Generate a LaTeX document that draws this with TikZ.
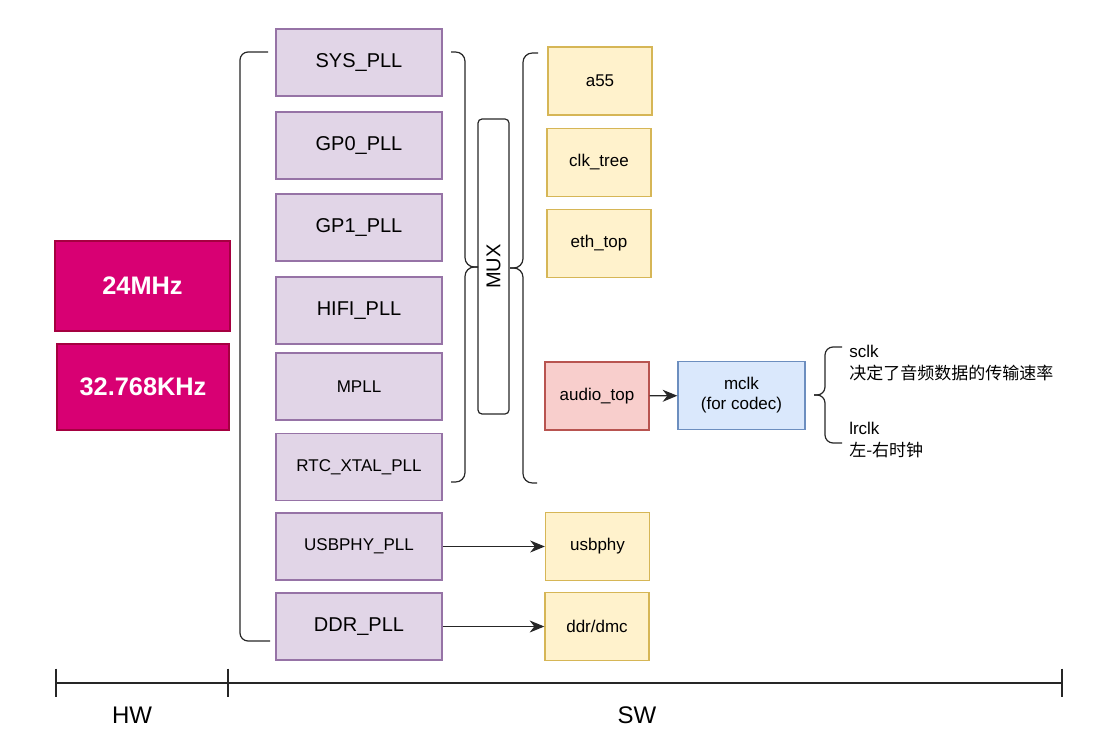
\documentclass[tikz,border=0pt]{standalone}
\usepackage{fontspec}
\setmainfont{Liberation Sans}
\newfontfamily\cjk{Noto Sans CJK SC}
\usetikzlibrary{arrows.meta}
\definecolor{pllfill}{HTML}{E1D5E7}
\definecolor{pllline}{HTML}{9673A6}
\definecolor{modfill}{HTML}{FFF2CC}
\definecolor{modline}{HTML}{D6B656}
\definecolor{oscfill}{HTML}{D80073}
\definecolor{oscline}{HTML}{A50040}
\definecolor{audfill}{HTML}{F8CECC}
\definecolor{audline}{HTML}{B85450}
\definecolor{mclkfill}{HTML}{DAE8FC}
\definecolor{mclkline}{HTML}{6C8EBF}
\begin{document}
\begin{tikzpicture}[x=0.75pt, y=-0.75pt,
  box/.style={draw, line width=1pt, inner sep=0pt, align=center},
  pll/.style={box, fill=pllfill, draw=pllline, minimum width=124.5pt, minimum height=50.25pt, font=\fontsize{15}{18}\selectfont},
  pll_small/.style={pll, font=\fontsize{12.75}{15}\selectfont},
  module/.style={box, fill=modfill, draw=modline, minimum width=78pt, minimum height=51pt, font=\fontsize{12.75}{15}\selectfont},
  osc/.style={box, fill=oscfill, draw=oscline, text=white, font=\fontsize{19}{22}\selectfont\bfseries},
  brace/.style={draw=black!85, line width=0.9pt, rounded corners=7pt},
  conn/.style={-{Stealth[length=11pt, width=9pt, inset=3.5pt]}, draw=black!85, line width=0.9pt},
  note/.style={align=left, anchor=west, inner sep=0pt, font=\fontsize{12.75}{16.5}\selectfont},
  axis/.style={draw=black!85, line width=1pt}
]
\useasboundingbox (0,0) rectangle (1117,745);

% Oscillators (HW)
\node[osc, minimum width=131.25pt, minimum height=67.5pt] (osc24) at (142.5,286) {24MHz};
\node[osc, minimum width=129pt, minimum height=64.5pt] (osc32) at (143,387) {32.768KHz};

% PLLs
\foreach \n/\t/\y in {sys/SYS\_PLL/62.5, gp0/GP0\_PLL/145.5, gp1/GP1\_PLL/227.5, hifi/HIFI\_PLL/310.5, ddr/DDR\_PLL/626.5} {
  \node[pll] (\n) at (359,\y) {\t};
}
\foreach \n/\t/\y in {mpll/MPLL/386.5, rtc/RTC\_XTAL\_PLL/467, usb/USBPHY\_PLL/546.5} {
  \node[pll_small] (\n) at (359,\y) {\t};
}

% MUX
\node[draw=black!85, line width=0.9pt, rounded corners=3pt, minimum width=23.25pt, minimum height=221.25pt, inner sep=0pt] (mux) at (493.5,266.5) {};
\node[rotate=90, font=\fontsize{15}{18}\selectfont] (muxlabel) at (mux.center) {MUX};

% Modules
\node[module] (a55) at (600,81) {a55};
\node[module] (clktree) at (599,162.5) {clk\_tree};
\node[module] (eth) at (599,243.5) {eth\_top};
\node[module, fill=audfill, draw=audline] (audio) at (597,396) {audio\_top};
\node[module, fill=mclkfill, draw=mclkline, minimum width=95.25pt] (mclk) at (741.5,395.5) {mclk\\(for codec)};
\node[module] (usbphy) at (597.5,546.5) {usbphy};
\node[module] (dmc) at (597,626.5) {ddr/dmc};

% Braces
\draw[brace, rounded corners=6pt] (268,52) -- (240,52) -- (240,641) -- (270,641);
\draw[brace] (451,52) -- (465,52) -- (465,267) -- (478,267);
\draw[brace] (478,267) -- (465,267) -- (465,482) -- (451,482);
\draw[brace] (538,53) -- (523,53) -- (523,268) -- (510,268);
\draw[brace] (510,268) -- (523,268) -- (523,483) -- (537,483);
\draw[brace, rounded corners=6pt] (842,347) -- (825,347) -- (825,395) -- (814,395);
\draw[brace, rounded corners=6pt] (814,395) -- (825,395) -- (825,443) -- (842,443);

% Notes
\node[note] (sclk) at (849,363) {sclk\\{\cjk 决定了音频数据的传输速率}};
\node[note] (lrclk) at (849,440) {lrclk\\{\cjk 左-右时钟}};

% Connections
\draw[conn] (audio) -- (mclk);
\draw[conn] (usb) -- (usbphy);
\draw[conn] (ddr) -- (dmc);

% Axis
\coordinate (hw_start) at (56,683);
\coordinate (hw_end) at (228,683);
\coordinate (sw_end) at (1062,683);
\draw[axis] (hw_start) -- (sw_end);
\foreach \c in {hw_start,hw_end,sw_end} {
  \draw[axis] ([yshift=10.8pt]\c) -- ([yshift=-10.8pt]\c);
}
\node[font=\fontsize{18}{21}\selectfont] (hw) at (132,715) {HW};
\node[font=\fontsize{18}{21}\selectfont] (sw) at (637,715) {SW};

\end{tikzpicture}
\end{document}
